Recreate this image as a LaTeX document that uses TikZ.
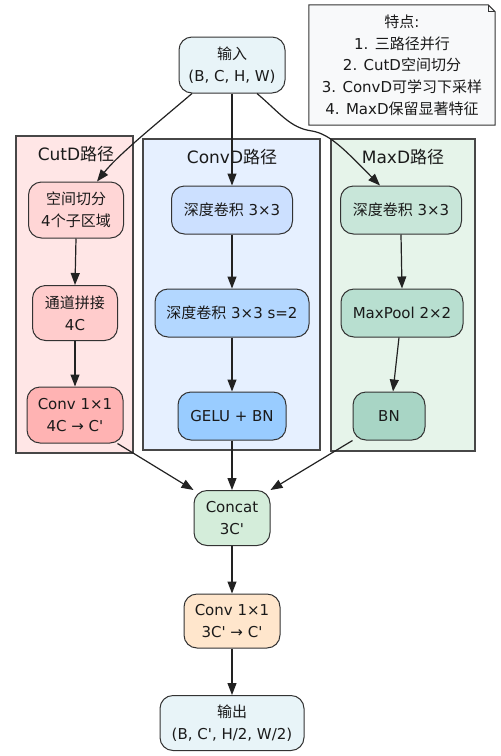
\documentclass[tikz,border=0pt]{standalone}
\usepackage{fontspec}
\setmainfont{DejaVu Sans}[Ligatures=TeXOff]
\newfontfamily\cjkfont{Noto Sans CJK SC}
\newcommand\zh[1]{{\cjkfont #1}}
\usetikzlibrary{arrows.meta,calc,backgrounds}
\definecolor{inC}{HTML}{E8F4F8}
\definecolor{cutBg}{HTML}{FFE6E6}
\definecolor{cutA}{HTML}{FFD6D6}
\definecolor{cutB}{HTML}{FFCCCC}
\definecolor{cutC}{HTML}{FFB3B3}
\definecolor{convBg}{HTML}{E6F0FF}
\definecolor{convA}{HTML}{CCE0FF}
\definecolor{convB}{HTML}{B3D7FF}
\definecolor{convC}{HTML}{99CCFF}
\definecolor{maxBg}{HTML}{E6F4EA}
\definecolor{maxA}{HTML}{C8E6D9}
\definecolor{maxB}{HTML}{B8DFD0}
\definecolor{maxC}{HTML}{A8D5C5}
\definecolor{catC}{HTML}{D4EDDA}
\definecolor{cvC}{HTML}{FFE6CC}
\definecolor{noteC}{HTML}{F8F9FA}
\definecolor{bordC}{HTML}{333333}
\definecolor{lineC}{HTML}{222222}
\definecolor{txtC}{HTML}{1A1A1A}
\begin{document}
\begin{tikzpicture}[x=1pt,y=-1pt,
  box/.style={draw=bordC, line width=1pt, rounded corners=13pt, inner sep=0pt,
    align=center, text=txtC, font=\fontsize{15}{22}\selectfont},
  cluster/.style={draw=bordC!90, line width=1.4pt, inner sep=0pt},
  clabel/.style={text=txtC, font=\fontsize{17}{20}\selectfont, inner sep=0pt},
  arr/.style={draw=lineC, line width=1.2pt, -{Triangle[length=12pt,width=9pt]}}]
\useasboundingbox (0,0) rectangle (501,756);

% clusters
\node[cluster, fill=cutBg, minimum width=117pt, minimum height=317pt] (cutd) at (74.5,294.5) {};
\node[cluster, fill=convBg, minimum width=177pt, minimum height=311pt] (convd) at (231.5,294.5) {};
\node[cluster, fill=maxBg, minimum width=144pt, minimum height=312pt] (maxd) at (403,295) {};
\node[clabel] (cutl) at (76,154) {CutD\zh{路径}};
\node[clabel] (convl) at (232,157) {ConvD\zh{路径}};
\node[clabel] (maxl) at (403,157) {MaxD\zh{路径}};

% note
\node[inner sep=0pt, minimum width=186pt, minimum height=120pt, align=center, text=txtC,
  font=\fontsize{15}{21.7}\selectfont] (note) at (402,65)
  {\zh{特点}:\\1. \zh{三路径并行}\\2. CutD\zh{空间切分}\\3. ConvD\zh{可学习下采样}\\4. MaxD\zh{保留显著特征}};
\begin{pgfonlayer}{background}
\draw[draw=bordC, line width=1pt, fill=noteC]
  (note.north west) -- ($(note.north east)+(-7,0)$) -- ($(note.north east)+(0,7)$) -- (note.south east) -- (note.south west) -- cycle;
\draw[draw=bordC, line width=1pt] ($(note.north east)+(-7,0)$) -- ($(note.north east)+(-7,7)$) -- ($(note.north east)+(0,7)$);
\end{pgfonlayer}

% nodes
\node[box, fill=inC, minimum width=106pt, minimum height=56pt] (in) at (232,65) {\zh{输入}\\(B, C, H, W)};
\node[box, fill=cutA, minimum width=95pt, minimum height=56pt] (c1) at (76,210) {\zh{空间切分}\\4\zh{个子区域}};
\node[box, fill=cutB, minimum width=85pt, minimum height=55pt] (c2) at (75,313) {\zh{通道拼接}\\4C};
\node[box, fill=cutC, minimum width=96pt, minimum height=56pt] (c3) at (75,415) {Conv 1×1\\4C → C'};
\node[box, fill=convA, minimum width=121pt, minimum height=48pt] (v1) at (232,210) {\zh{深度卷积} 3×3};
\node[box, fill=convB, minimum width=154pt, minimum height=48pt] (v2) at (232,313) {\zh{深度卷积} 3×3 s=2};
\node[box, fill=convC, minimum width=108pt, minimum height=48pt] (v3) at (232,416) {GELU + BN};
\node[box, fill=maxA, minimum width=121pt, minimum height=48pt] (m1) at (401,210) {\zh{深度卷积} 3×3};
\node[box, fill=maxB, minimum width=122pt, minimum height=48pt] (m2) at (402,313) {MaxPool 2×2};
\node[box, fill=maxC, minimum width=72pt, minimum height=48pt] (m3) at (389,416) {BN};
\node[box, fill=catC, minimum width=76pt, minimum height=55pt] (cat) at (232,518) {Concat\\3C'};
\node[box, fill=cvC, minimum width=96pt, minimum height=54pt] (cv) at (232,621) {Conv 1×1\\3C' → C'};
\node[box, fill=inC, minimum width=144pt, minimum height=55pt] (out) at (232,723) {\zh{输出}\\(B, C', H/2, W/2)};

% edges
\draw[arr] ($(in.south)+(-40,0)$) .. controls (155,125) and (118,155) .. ($(c1.north)+(21,0)$);
\draw[arr] (in.south) -- (v1.north);
\draw[arr] ($(in.south)+(25,0)$) .. controls (280,113) and (290,128) .. (312,131)
  .. controls (330,134) and (345,150) .. ($(m1.north)+(-21,0)$);
\draw[arr] (c1.south) -- (c2.north);
\draw[arr] (c2.south) -- (c3.north);
\draw[arr] (v1.south) -- (v2.north);
\draw[arr] (v2.south) -- (v3.north);
\draw[arr] (m1.south) -- (m2.north);
\draw[arr] ($(m2.south)+(-3,0)$) -- ($(m3.north)+(4,0)$);
\draw[arr] ($(c3.south east)+(-6,0)$) -- (cat.north west);
\draw[arr] (v3.south) -- (cat.north);
\draw[arr] (m3.south west) -- (cat.north east);
\draw[arr] (cat.south) -- (cv.north);
\draw[arr] (cv.south) -- (out.north);
\end{tikzpicture}
\end{document}
